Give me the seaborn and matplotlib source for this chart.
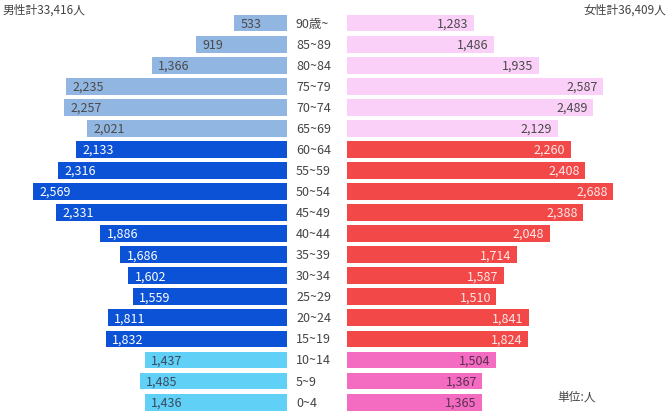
import matplotlib
matplotlib.use("Agg")
import matplotlib.pyplot as plt
import seaborn as sns
import pandas as pd

sns.set_theme(style="white")
plt.rcParams['font.family'] = ['Noto Sans CJK JP', 'DejaVu Sans']

ages = ["90歳~", "85~89", "80~84", "75~79", "70~74", "65~69", "60~64", "55~59",
        "50~54", "45~49", "40~44", "35~39", "30~34", "25~29", "20~24", "15~19",
        "10~14", "5~9", "0~4"]
male = [533, 919, 1366, 2235, 2257, 2021, 2133, 2316, 2569, 2331, 1886, 1686,
        1602, 1559, 1811, 1832, 1437, 1485, 1436]
female = [1283, 1486, 1935, 2587, 2489, 2129, 2260, 2408, 2688, 2388, 2048, 1714,
          1587, 1510, 1841, 1824, 1504, 1367, 1365]
group = ["old"] * 6 + ["mid"] * 10 + ["young"] * 3
male_total = "男性計33,416人"
female_total = "女性計36,409人"
unit = "単位:人"

male_col = {"old": "#92b6e2", "mid": "#0b52d6", "young": "#60d0f6"}
female_col = {"old": "#fbd0f8", "mid": "#f24848", "young": "#f46cc2"}
male_txt = {"old": "#4a4a4a", "mid": "#ffffff", "young": "#3a4a60"}
female_txt = {"old": "#4a4a4a", "mid": "#ffe8e8", "young": "#5a3050"}

df = pd.DataFrame({"age": ages, "male": male, "female": female, "group": group})

W, H = 669, 414
fig = plt.figure(figsize=(W / 100, H / 100), dpi=100)

top_px = 13.5
row_h = 21.06
ax_h = row_h * len(ages)
y0 = (H - top_px - ax_h) / H

axm = fig.add_axes([0, y0, 287 / W, ax_h / H])
axf = fig.add_axes([347 / W, y0, (W - 347) / W, ax_h / H])

sns.barplot(data=df, x="male", y="age", hue="age",
            palette={a: male_col[g] for a, g in zip(ages, group)},
            legend=False, ax=axm, width=0.8, orient="h", linewidth=0,
            saturation=1)
sns.barplot(data=df, x="female", y="age", hue="age",
            palette={a: female_col[g] for a, g in zip(ages, group)},
            legend=False, ax=axf, width=0.8, orient="h", linewidth=0,
            saturation=1)

axm.set_xlim(2899, 0)
axf.set_xlim(0, 3253)
for ax in (axm, axf):
    ax.set_ylim(len(ages) - 0.5, -0.5)
    ax.axis("off")

for i, (v, g) in enumerate(zip(male, group)):
    axm.text(v - 65, i, f"{v:,}", ha="left", va="center", fontsize=9,
             color=male_txt[g])
for i, (v, g) in enumerate(zip(female, group)):
    axf.text(v - 55, i, f"{v:,}", ha="right", va="center", fontsize=9,
             color=female_txt[g])

for i, a in enumerate(ages):
    yc = top_px + row_h * (i + 0.5)
    fig.text(296 / W, 1 - yc / H, a, ha="left", va="center", fontsize=9,
             color="#444444")

fig.text(3 / W, 1 - 10 / H, male_total, ha="left", va="center", fontsize=8.5,
         color="#444444")
fig.text(666 / W, 1 - 10 / H, female_total, ha="right", va="center",
         fontsize=8.5, color="#444444")
fig.text(557 / W, 1 - 397 / H, unit, ha="left", va="center", fontsize=8.5,
         color="#444444")

fig.savefig("out.png", dpi=100)
